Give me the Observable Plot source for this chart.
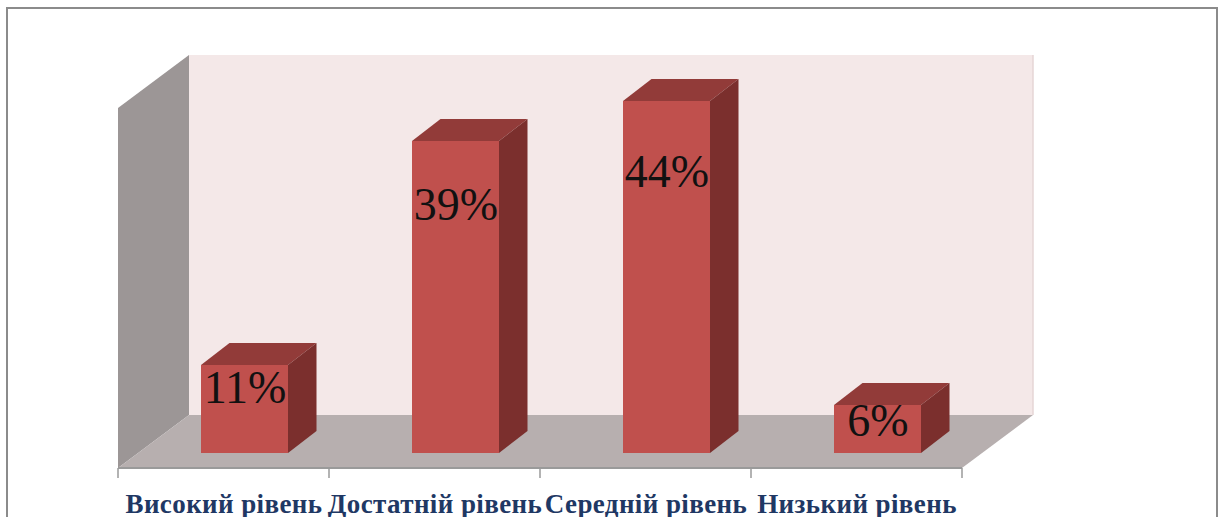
<!DOCTYPE html>
<html>
<head>
<meta charset="utf-8">
<script src="https://cdn.jsdelivr.net/npm/d3@7"></script>
<script src="https://cdn.jsdelivr.net/npm/@observablehq/plot@0.6"></script>
<style>
  html, body { margin: 0; padding: 0; background: #fff; }
  #wrap { position: relative; width: 1219px; height: 517px; overflow: hidden; }
  #frame { position: absolute; left: 6px; top: 7px; width: 1212px; height: 600px;
           box-sizing: border-box; border: 2px solid #8b8b8b; pointer-events: none; }
  #wrap svg { position: absolute; left: 0; top: 0; }
  .catlabel text { letter-spacing: 0.4px; }
</style>
</head>
<body>
<div id="wrap"><div id="frame"></div></div>
<script>
// ---- data ----
const categories = ["Високий рівень", "Достатній рівень", "Середній рівень", "Низький рівень"];
const values = [11, 39, 44, 6];
const yMax = 45;

// ---- layout / style ----
const W = 1219, H = 517;
const mL = 117, mR = 256, mT = 108, mB = 49;
const bw = (W - mL - mR) / categories.length;
const barInset = 62;
const barShift = {x: 21, y: -15};   // bar front plane offset (3D depth)
const barDepth = {x: 28.5, y: -22}; // bar thickness
const wallDepth = {x: 71, y: -53};  // floor / wall depth
const colors = {
  front: "#c0504d", top: "#923b39", side: "#7b2f2d",
  back: "#f4e8e8", left: "#9c9696", floor: "#b7afaf",
  axis: "#9a9a9a", label: "#1f3864"
};

const data = categories.map((c, i) => ({category: c, value: values[i]}));

function poly(g, pts, fill) {
  g.append("path").attr("d", "M" + pts.map(p => p.join(",")).join("L") + "Z").attr("fill", fill);
}

// walls, floor, axis line and ticks, computed from Plot's scales
function scene(index, scales) {
  const x = scales.x, y = scales.y;
  const band = x.bandwidth ? x.bandwidth() : bw;
  const x0 = x(categories[0]), x1 = x(categories[categories.length - 1]) + band;
  const yb = y(0), yt = y(yMax);
  const D = wallDepth;
  const g = d3.create("svg:g");
  poly(g, [[x0 + D.x, yt + D.y], [x1 + D.x, yt + D.y], [x1 + D.x, yb + D.y], [x0 + D.x, yb + D.y]], colors.back);
  g.append("line").attr("x1", x1 + D.x).attr("x2", x1 + D.x).attr("y1", yt + D.y).attr("y2", yb + D.y)
    .attr("stroke", "#e6d6d6").attr("stroke-width", 1.5);
  poly(g, [[x0, yt], [x0 + D.x, yt + D.y], [x0 + D.x, yb + D.y], [x0, yb]], colors.left);
  poly(g, [[x0, yb], [x0 + D.x, yb + D.y], [x1 + D.x, yb + D.y], [x1, yb]], colors.floor);
  g.append("line").attr("x1", x0).attr("x2", x1).attr("y1", yb).attr("y2", yb)
    .attr("stroke", colors.axis).attr("stroke-width", 2);
  const bounds = categories.map(c => x(c)).concat([x1]);
  for (const bx of bounds) {
    g.append("line").attr("x1", bx).attr("x2", bx).attr("y1", yb).attr("y2", yb + 10)
      .attr("stroke", colors.axis).attr("stroke-width", 1.5);
  }
  return g.node();
}

// top and right side faces of each 3D bar
function barFaces(index, scales) {
  const x = scales.x, y = scales.y;
  const band = x.bandwidth ? x.bandwidth() : bw;
  const g = d3.create("svg:g");
  const B = barDepth;
  for (const d of data) {
    const xl = x(d.category) + barInset + barShift.x;
    const xr = x(d.category) + band - barInset + barShift.x;
    const yt = y(d.value) + barShift.y;
    const yb = y(0) + barShift.y;
    poly(g, [[xl, yt], [xl + B.x, yt + B.y], [xr + B.x, yt + B.y], [xr, yt]], colors.top);
    poly(g, [[xr, yt], [xr + B.x, yt + B.y], [xr + B.x, yb + B.y], [xr, yb]], colors.side);
  }
  return g.node();
}

const chart = Plot.plot({
  width: W, height: H,
  marginLeft: mL, marginRight: mR, marginTop: mT, marginBottom: mB,
  style: {background: "transparent", overflow: "visible"},
  x: {type: "band", domain: categories, padding: 0, axis: null},
  y: {domain: [0, yMax], axis: null},
  marks: [
    scene,
    barFaces,
    Plot.barY(data, {x: "category", y: "value", fill: colors.front,
      insetLeft: barInset, insetRight: barInset, dx: barShift.x, dy: barShift.y}),
    Plot.text(data, {x: "category", y: d => d.value * 0.82 - 0.9, text: d => d.value + "%",
      dx: barShift.x, dy: barShift.y, fontSize: 46, fontFamily: "Liberation Serif", fill: "#111"}),
    Plot.text(data, {x: "category", frameAnchor: "bottom", dy: 44, text: "category",
      fontSize: 27, fontWeight: "bold", fontFamily: "Liberation Serif", fill: colors.label,
      className: "catlabel"})
  ]
});
document.getElementById("wrap").insertBefore(chart, document.getElementById("frame"));
</script>
</body>
</html>
